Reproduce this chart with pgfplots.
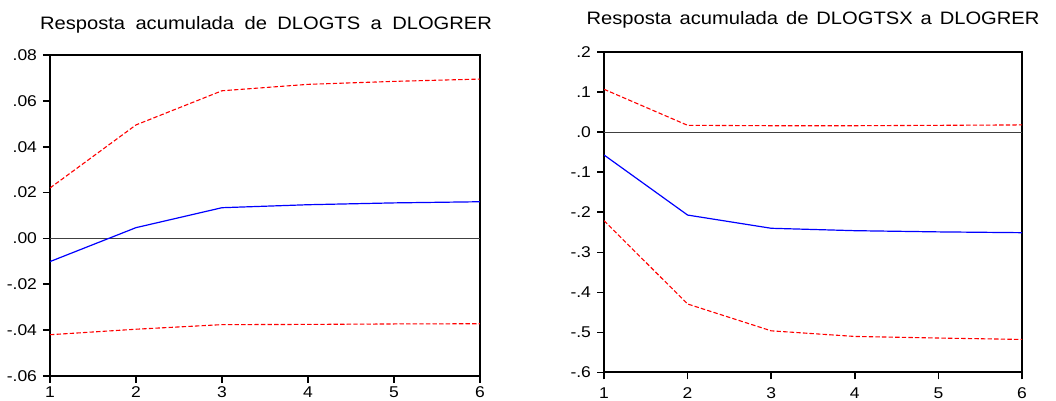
\documentclass[border=0pt]{standalone}
\usepackage{fontspec}
\setmainfont{Liberation Sans}[FakeStretch=1.12]
\usepackage{pgfplots}
\pgfplotsset{compat=1.18}
\definecolor{eblue}{RGB}{0,0,255}
\definecolor{ered}{RGB}{255,0,0}
\pgfplotsset{
  irf/.style={
    scale only axis,
    anchor=south west,
    xmin=1, xmax=6,
    xtick={1,2,3,4,5,6},
    scaled y ticks=false,
    tick align=outside,
    xtick pos=bottom,
    ytick pos=left,
    major tick length=3.5pt,
    axis line style={line width=1pt},
    major tick style={line width=0.8pt, draw=black},
    tick label style={font=\fontsize{7.8}{9}\selectfont},
    yticklabel style={xshift=0.5pt},
    /pgf/number format/assume math mode=true,
    clip=true,
  },
  band/.style={ered, line width=0.55pt, dash pattern=on 2.2pt off 1.1pt},
  mid/.style={eblue, line width=0.6pt},
  zero/.style={black!75, line width=0.45pt},
}
\begin{document}
\begin{tikzpicture}
% Left panel
\begin{axis}[irf,
  at={(25pt,12.5pt)}, width=215pt, height=160.5pt,
  ymin=-0.06, ymax=0.08,
  ytick={-0.06,-0.04,-0.02,0,0.02,0.04,0.06,0.08},
  yticklabels={-.06,-.04,-.02,.00,.02,.04,.06,.08},
  xticklabel style={yshift=1.6pt},
]
\addplot[zero] coordinates {(1,0) (6,0)};
\addplot[band] coordinates {(1,0.0220) (2,0.0495) (3,0.0644) (4,0.0672) (5,0.0685) (6,0.0695)};
\addplot[mid] coordinates {(1,-0.0101) (2,0.0047) (3,0.0134) (4,0.0147) (5,0.0155) (6,0.0160)};
\addplot[band] coordinates {(1,-0.0420) (2,-0.0396) (3,-0.0376) (4,-0.0375) (5,-0.0373) (6,-0.0372)};
\end{axis}
% Right panel
\begin{axis}[irf,
  at={(302pt,14.25pt)}, width=209pt, height=160.25pt,
  ymin=-0.6, ymax=0.2,
  ytick={-0.6,-0.5,-0.4,-0.3,-0.2,-0.1,0,0.1,0.2},
  yticklabels={-.6,-.5,-.4,-.3,-.2,-.1,.0,.1,.2},
  xticklabel style={yshift=-0.4pt},
]
\addplot[zero] coordinates {(1,0) (6,0)};
\addplot[band] coordinates {(1,0.107) (2,0.017) (3,0.016) (4,0.016) (5,0.017) (6,0.018)};
\addplot[mid] coordinates {(1,-0.057) (2,-0.207) (3,-0.240) (4,-0.246) (5,-0.249) (6,-0.251)};
\addplot[band] coordinates {(1,-0.221) (2,-0.429) (3,-0.496) (4,-0.510) (5,-0.514) (6,-0.5175)};
\end{axis}
% Titles
\node[anchor=base, inner sep=0pt] at (133pt,185.5pt)
  {\fontsize{9}{11}\selectfont\makebox[226pt][s]{Resposta acumulada de DLOGTS a DLOGRER}};
\node[anchor=base, inner sep=0pt] at (406.5pt,188pt)
  {\fontsize{9}{11}\selectfont\makebox[226.5pt][s]{Resposta acumulada de DLOGTSX a DLOGRER}};
\pgfresetboundingbox
\path (0,0) rectangle (528pt,200.5pt);
\end{tikzpicture}
\end{document}
